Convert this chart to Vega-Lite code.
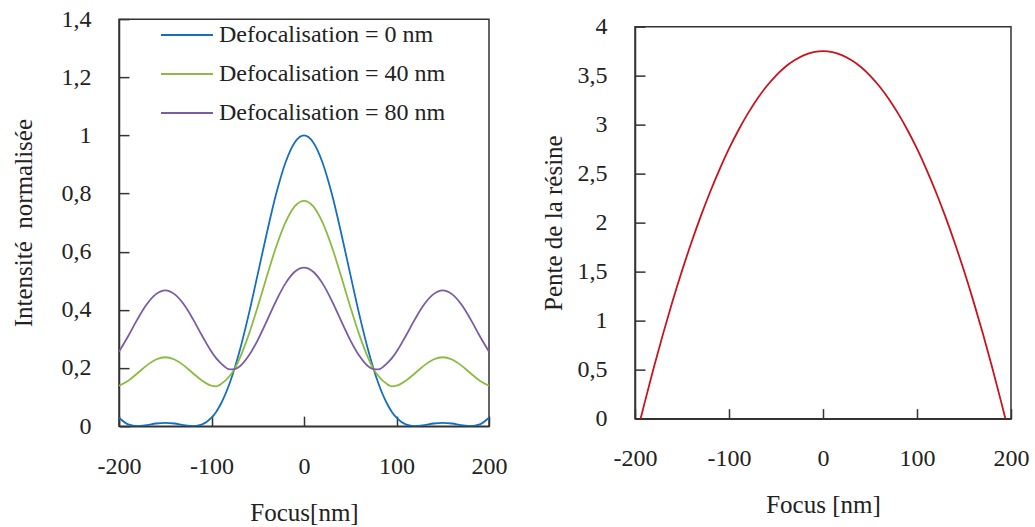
{
  "$schema": "https://vega.github.io/schema/vega-lite/v6.json",
  "padding": {"left": 10, "top": 6, "right": 0, "bottom": 5},
  "spacing": 32,
  "center": true,
  "background": "white",
  "config": {
    "font": "Liberation Serif",
    "view": {"stroke": "#333", "strokeWidth": 1.5},
    "axis": {"grid": false, "domainColor": "#333", "domainWidth": 1.5, "tickColor": "#333", "tickWidth": 1.5, "tickSize": -10, "labelFont": "Liberation Serif", "labelFontSize": 24, "labelColor": "#222", "titleFont": "Liberation Serif", "titleFontSize": 25, "titleFontWeight": "normal", "titleColor": "#222", "labelPadding": 38, "labelFlush": false}
  },
  "datasets": {
    "intensity": [
      {"x": -200, "I": 0.029, "s": "Defocalisation = 0 nm"},
      {"x": -190, "I": 0.006, "s": "Defocalisation = 0 nm"},
      {"x": -180, "I": 0.0, "s": "Defocalisation = 0 nm"},
      {"x": -170, "I": 0.0035, "s": "Defocalisation = 0 nm"},
      {"x": -160, "I": 0.009, "s": "Defocalisation = 0 nm"},
      {"x": -150, "I": 0.0114, "s": "Defocalisation = 0 nm"},
      {"x": -140, "I": 0.009, "s": "Defocalisation = 0 nm"},
      {"x": -130, "I": 0.0035, "s": "Defocalisation = 0 nm"},
      {"x": -120, "I": 0.0, "s": "Defocalisation = 0 nm"},
      {"x": -110, "I": 0.006, "s": "Defocalisation = 0 nm"},
      {"x": -100, "I": 0.029, "s": "Defocalisation = 0 nm"},
      {"x": -95, "I": 0.049, "s": "Defocalisation = 0 nm"},
      {"x": -90, "I": 0.076, "s": "Defocalisation = 0 nm"},
      {"x": -80, "I": 0.151, "s": "Defocalisation = 0 nm"},
      {"x": -75, "I": 0.199, "s": "Defocalisation = 0 nm"},
      {"x": -70, "I": 0.254, "s": "Defocalisation = 0 nm"},
      {"x": -60, "I": 0.381, "s": "Defocalisation = 0 nm"},
      {"x": -50, "I": 0.523, "s": "Defocalisation = 0 nm"},
      {"x": -40, "I": 0.667, "s": "Defocalisation = 0 nm"},
      {"x": -30, "I": 0.8, "s": "Defocalisation = 0 nm"},
      {"x": -20, "I": 0.907, "s": "Defocalisation = 0 nm"},
      {"x": -10, "I": 0.976, "s": "Defocalisation = 0 nm"},
      {"x": 0, "I": 1.0, "s": "Defocalisation = 0 nm"},
      {"x": 10, "I": 0.976, "s": "Defocalisation = 0 nm"},
      {"x": 20, "I": 0.907, "s": "Defocalisation = 0 nm"},
      {"x": 30, "I": 0.8, "s": "Defocalisation = 0 nm"},
      {"x": 40, "I": 0.667, "s": "Defocalisation = 0 nm"},
      {"x": 50, "I": 0.523, "s": "Defocalisation = 0 nm"},
      {"x": 60, "I": 0.381, "s": "Defocalisation = 0 nm"},
      {"x": 70, "I": 0.254, "s": "Defocalisation = 0 nm"},
      {"x": 75, "I": 0.199, "s": "Defocalisation = 0 nm"},
      {"x": 80, "I": 0.151, "s": "Defocalisation = 0 nm"},
      {"x": 90, "I": 0.076, "s": "Defocalisation = 0 nm"},
      {"x": 95, "I": 0.049, "s": "Defocalisation = 0 nm"},
      {"x": 100, "I": 0.029, "s": "Defocalisation = 0 nm"},
      {"x": 110, "I": 0.006, "s": "Defocalisation = 0 nm"},
      {"x": 120, "I": 0.0, "s": "Defocalisation = 0 nm"},
      {"x": 130, "I": 0.0035, "s": "Defocalisation = 0 nm"},
      {"x": 140, "I": 0.009, "s": "Defocalisation = 0 nm"},
      {"x": 150, "I": 0.0114, "s": "Defocalisation = 0 nm"},
      {"x": 160, "I": 0.009, "s": "Defocalisation = 0 nm"},
      {"x": 170, "I": 0.0035, "s": "Defocalisation = 0 nm"},
      {"x": 180, "I": 0.0, "s": "Defocalisation = 0 nm"},
      {"x": 190, "I": 0.006, "s": "Defocalisation = 0 nm"},
      {"x": 200, "I": 0.029, "s": "Defocalisation = 0 nm"},

      {"x": -200, "I": 0.139, "s": "Defocalisation = 40 nm"},
      {"x": -190, "I": 0.156, "s": "Defocalisation = 40 nm"},
      {"x": -180, "I": 0.182, "s": "Defocalisation = 40 nm"},
      {"x": -170, "I": 0.209, "s": "Defocalisation = 40 nm"},
      {"x": -160, "I": 0.229, "s": "Defocalisation = 40 nm"},
      {"x": -150, "I": 0.237, "s": "Defocalisation = 40 nm"},
      {"x": -140, "I": 0.229, "s": "Defocalisation = 40 nm"},
      {"x": -130, "I": 0.209, "s": "Defocalisation = 40 nm"},
      {"x": -120, "I": 0.182, "s": "Defocalisation = 40 nm"},
      {"x": -110, "I": 0.156, "s": "Defocalisation = 40 nm"},
      {"x": -100, "I": 0.139, "s": "Defocalisation = 40 nm"},
      {"x": -95, "I": 0.137, "s": "Defocalisation = 40 nm"},
      {"x": -90, "I": 0.144, "s": "Defocalisation = 40 nm"},
      {"x": -80, "I": 0.174, "s": "Defocalisation = 40 nm"},
      {"x": -75, "I": 0.197, "s": "Defocalisation = 40 nm"},
      {"x": -70, "I": 0.23, "s": "Defocalisation = 40 nm"},
      {"x": -60, "I": 0.312, "s": "Defocalisation = 40 nm"},
      {"x": -50, "I": 0.411, "s": "Defocalisation = 40 nm"},
      {"x": -40, "I": 0.517, "s": "Defocalisation = 40 nm"},
      {"x": -30, "I": 0.618, "s": "Defocalisation = 40 nm"},
      {"x": -20, "I": 0.701, "s": "Defocalisation = 40 nm"},
      {"x": -10, "I": 0.756, "s": "Defocalisation = 40 nm"},
      {"x": 0, "I": 0.775, "s": "Defocalisation = 40 nm"},
      {"x": 10, "I": 0.756, "s": "Defocalisation = 40 nm"},
      {"x": 20, "I": 0.701, "s": "Defocalisation = 40 nm"},
      {"x": 30, "I": 0.618, "s": "Defocalisation = 40 nm"},
      {"x": 40, "I": 0.517, "s": "Defocalisation = 40 nm"},
      {"x": 50, "I": 0.411, "s": "Defocalisation = 40 nm"},
      {"x": 60, "I": 0.312, "s": "Defocalisation = 40 nm"},
      {"x": 70, "I": 0.23, "s": "Defocalisation = 40 nm"},
      {"x": 75, "I": 0.197, "s": "Defocalisation = 40 nm"},
      {"x": 80, "I": 0.174, "s": "Defocalisation = 40 nm"},
      {"x": 90, "I": 0.144, "s": "Defocalisation = 40 nm"},
      {"x": 95, "I": 0.137, "s": "Defocalisation = 40 nm"},
      {"x": 100, "I": 0.139, "s": "Defocalisation = 40 nm"},
      {"x": 110, "I": 0.156, "s": "Defocalisation = 40 nm"},
      {"x": 120, "I": 0.182, "s": "Defocalisation = 40 nm"},
      {"x": 130, "I": 0.209, "s": "Defocalisation = 40 nm"},
      {"x": 140, "I": 0.229, "s": "Defocalisation = 40 nm"},
      {"x": 150, "I": 0.237, "s": "Defocalisation = 40 nm"},
      {"x": 160, "I": 0.229, "s": "Defocalisation = 40 nm"},
      {"x": 170, "I": 0.209, "s": "Defocalisation = 40 nm"},
      {"x": 180, "I": 0.182, "s": "Defocalisation = 40 nm"},
      {"x": 190, "I": 0.156, "s": "Defocalisation = 40 nm"},
      {"x": 200, "I": 0.139, "s": "Defocalisation = 40 nm"},

      {"x": -200, "I": 0.256, "s": "Defocalisation = 80 nm"},
      {"x": -190, "I": 0.31, "s": "Defocalisation = 80 nm"},
      {"x": -180, "I": 0.368, "s": "Defocalisation = 80 nm"},
      {"x": -170, "I": 0.419, "s": "Defocalisation = 80 nm"},
      {"x": -160, "I": 0.454, "s": "Defocalisation = 80 nm"},
      {"x": -150, "I": 0.467, "s": "Defocalisation = 80 nm"},
      {"x": -140, "I": 0.454, "s": "Defocalisation = 80 nm"},
      {"x": -130, "I": 0.419, "s": "Defocalisation = 80 nm"},
      {"x": -120, "I": 0.368, "s": "Defocalisation = 80 nm"},
      {"x": -110, "I": 0.31, "s": "Defocalisation = 80 nm"},
      {"x": -100, "I": 0.256, "s": "Defocalisation = 80 nm"},
      {"x": -95, "I": 0.234, "s": "Defocalisation = 80 nm"},
      {"x": -90, "I": 0.217, "s": "Defocalisation = 80 nm"},
      {"x": -80, "I": 0.195, "s": "Defocalisation = 80 nm"},
      {"x": -75, "I": 0.196, "s": "Defocalisation = 80 nm"},
      {"x": -70, "I": 0.204, "s": "Defocalisation = 80 nm"},
      {"x": -60, "I": 0.241, "s": "Defocalisation = 80 nm"},
      {"x": -50, "I": 0.296, "s": "Defocalisation = 80 nm"},
      {"x": -40, "I": 0.363, "s": "Defocalisation = 80 nm"},
      {"x": -30, "I": 0.432, "s": "Defocalisation = 80 nm"},
      {"x": -20, "I": 0.491, "s": "Defocalisation = 80 nm"},
      {"x": -10, "I": 0.531, "s": "Defocalisation = 80 nm"},
      {"x": 0, "I": 0.545, "s": "Defocalisation = 80 nm"},
      {"x": 10, "I": 0.531, "s": "Defocalisation = 80 nm"},
      {"x": 20, "I": 0.491, "s": "Defocalisation = 80 nm"},
      {"x": 30, "I": 0.432, "s": "Defocalisation = 80 nm"},
      {"x": 40, "I": 0.363, "s": "Defocalisation = 80 nm"},
      {"x": 50, "I": 0.296, "s": "Defocalisation = 80 nm"},
      {"x": 60, "I": 0.241, "s": "Defocalisation = 80 nm"},
      {"x": 70, "I": 0.204, "s": "Defocalisation = 80 nm"},
      {"x": 75, "I": 0.196, "s": "Defocalisation = 80 nm"},
      {"x": 80, "I": 0.195, "s": "Defocalisation = 80 nm"},
      {"x": 90, "I": 0.217, "s": "Defocalisation = 80 nm"},
      {"x": 95, "I": 0.234, "s": "Defocalisation = 80 nm"},
      {"x": 100, "I": 0.256, "s": "Defocalisation = 80 nm"},
      {"x": 110, "I": 0.31, "s": "Defocalisation = 80 nm"},
      {"x": 120, "I": 0.368, "s": "Defocalisation = 80 nm"},
      {"x": 130, "I": 0.419, "s": "Defocalisation = 80 nm"},
      {"x": 140, "I": 0.454, "s": "Defocalisation = 80 nm"},
      {"x": 150, "I": 0.467, "s": "Defocalisation = 80 nm"},
      {"x": 160, "I": 0.454, "s": "Defocalisation = 80 nm"},
      {"x": 170, "I": 0.419, "s": "Defocalisation = 80 nm"},
      {"x": 180, "I": 0.368, "s": "Defocalisation = 80 nm"},
      {"x": 190, "I": 0.31, "s": "Defocalisation = 80 nm"},
      {"x": 200, "I": 0.256, "s": "Defocalisation = 80 nm"}
    ],
    "pente": [
      {"x": -194, "p": 0.0},
      {"x": -190, "p": 0.153},
      {"x": -180, "p": 0.522},
      {"x": -170, "p": 0.87},
      {"x": -160, "p": 1.199},
      {"x": -150, "p": 1.508},
      {"x": -140, "p": 1.797},
      {"x": -130, "p": 2.066},
      {"x": -120, "p": 2.315},
      {"x": -110, "p": 2.544},
      {"x": -100, "p": 2.754},
      {"x": -90, "p": 2.943},
      {"x": -80, "p": 3.112},
      {"x": -70, "p": 3.262},
      {"x": -60, "p": 3.391},
      {"x": -50, "p": 3.501},
      {"x": -40, "p": 3.591},
      {"x": -30, "p": 3.66},
      {"x": -20, "p": 3.71},
      {"x": -10, "p": 3.74},
      {"x": 0, "p": 3.75},
      {"x": 10, "p": 3.74},
      {"x": 20, "p": 3.71},
      {"x": 30, "p": 3.66},
      {"x": 40, "p": 3.591},
      {"x": 50, "p": 3.501},
      {"x": 60, "p": 3.391},
      {"x": 70, "p": 3.262},
      {"x": 80, "p": 3.112},
      {"x": 90, "p": 2.943},
      {"x": 100, "p": 2.754},
      {"x": 110, "p": 2.544},
      {"x": 120, "p": 2.315},
      {"x": 130, "p": 2.066},
      {"x": 140, "p": 1.797},
      {"x": 150, "p": 1.508},
      {"x": 160, "p": 1.199},
      {"x": 170, "p": 0.87},
      {"x": 180, "p": 0.522},
      {"x": 190, "p": 0.153},
      {"x": 194, "p": 0.0}
    ]
  },
  "hconcat": [
    {
      "width": 370,
      "height": 407,
      "data": {"name": "intensity"},
      "mark": {"type": "line", "strokeWidth": 1.8, "interpolate": "monotone", "clip": true},
      "encoding": {
        "x": {"field": "x", "type": "quantitative", "scale": {"domain": [-200, 200], "nice": false},
              "axis": {"values": [-200, -100, 0, 100, 200], "labelExpr": "toString(datum.value)", "title": "Focus[nm]", "titlePadding": 22}},
        "y": {"field": "I", "type": "quantitative", "scale": {"domain": [0, 1.4], "nice": false},
              "axis": {"values": [0, 0.2, 0.4, 0.6, 0.8, 1, 1.2, 1.4], "labelExpr": "replace(format(datum.value, '~g'), '.', ',')", "title": "Intensité\u00a0\u00a0normalisée", "titlePadding": 25}},
        "color": {"field": "s", "type": "nominal",
                  "scale": {"domain": ["Defocalisation = 0 nm", "Defocalisation = 40 nm", "Defocalisation = 80 nm"], "range": ["#1470BC", "#8CBB42", "#7B5BA5"]},
                  "legend": {"title": null, "orient": "none", "legendX": 41, "legendY": -11, "symbolType": "stroke", "symbolSize": 2700, "symbolStrokeWidth": 1.8, "labelFont": "Liberation Serif", "labelFontSize": 24, "labelColor": "#222", "labelOffset": 5, "labelLimit": 400, "rowPadding": -2, "padding": 0}}
      }
    },
    {
      "width": 376,
      "height": 392,
      "data": {"name": "pente"},
      "mark": {"type": "line", "strokeWidth": 1.8, "interpolate": "monotone", "color": "#C8141E"},
      "encoding": {
        "x": {"field": "x", "type": "quantitative", "scale": {"domain": [-200, 200], "nice": false},
              "axis": {"values": [-200, -100, 0, 100, 200], "labelExpr": "toString(datum.value)", "title": "Focus [nm]", "titlePadding": 22}},
        "y": {"field": "p", "type": "quantitative", "scale": {"domain": [0, 4], "nice": false},
              "axis": {"values": [0, 0.5, 1, 1.5, 2, 2.5, 3, 3.5, 4], "labelExpr": "replace(format(datum.value, '~g'), '.', ',')", "title": "Pente de la résine", "titlePadding": 11}}
      }
    }
  ]
}
